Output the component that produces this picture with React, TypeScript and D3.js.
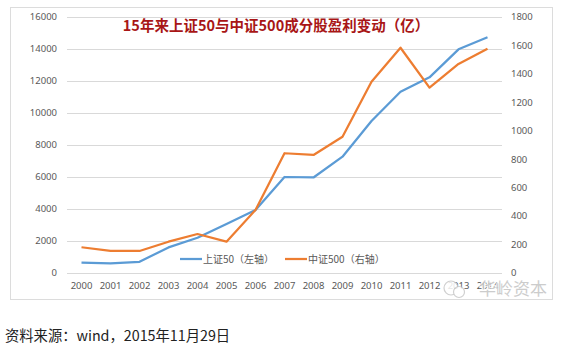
import React from "react";
import * as d3 from "d3";

const years = ["2000","2001","2002","2003","2004","2005","2006","2007","2008","2009","2010","2011","2012","2013","2014"];
const sz50 = [650, 600, 700, 1600, 2200, 3060, 3940, 6000, 5970, 7270, 9500, 11330, 12230, 13980, 14730];
const zz500 = [181, 155, 155, 220, 274, 220, 443, 842, 830, 958, 1345, 1584, 1303, 1470, 1577];
const leftTicks = [0, 2000, 4000, 6000, 8000, 10000, 12000, 14000, 16000];
const rightTicks = [0, 200, 400, 600, 800, 1000, 1200, 1400, 1600, 1800];
const title = "15年来上证50与中证500成分股盈利变动（亿）";
const legendNames = ["上证50（左轴）", "中证500（右轴）"];
const source = "资料来源：wind，2015年11月29日";
const watermark = "华岭资本";

const BLUE = "#5b9bd5";
const ORANGE = "#ed7d31";
const CJK = "'Noto Sans CJK SC', 'Noto Sans', sans-serif";
const NUM = "'Noto Sans', 'Open Sans', sans-serif";

export default function App() {
  const x = d3.scaleBand<string>().domain(years).range([67, 502]);
  const cx = (y: string) => (x(y) as number) + x.bandwidth() / 2;
  const yL = d3.scaleLinear().domain([0, 16000]).range([273, 17]);
  const yR = d3.scaleLinear().domain([0, 1800]).range([273, 17]);
  const lineL = d3.line<number>().x((_, i) => cx(years[i])).y((d) => yL(d));
  const lineR = d3.line<number>().x((_, i) => cx(years[i])).y((d) => yR(d));

  return (
    <svg width={583} height={354} style={{ position: "absolute", left: 0, top: 0, background: "#fff" }}>
      <rect x={0} y={0} width={583} height={354} fill="#fff" />
      <rect x={10.5} y={7.5} width={542} height={292} fill="#fff" stroke="#dcdcdc" />
      {leftTicks.map((t) => (
        <line key={t} x1={67} x2={502} y1={Math.round(yL(t)) + 0.5} y2={Math.round(yL(t)) + 0.5} stroke="#d9d9d9" strokeWidth={1} />
      ))}
      {leftTicks.map((t) => (
        <text key={t} x={57} y={yL(t)} dy="0.35em" textAnchor="end" fontFamily={NUM} fontSize={9.5} fill="#595959">{t}</text>
      ))}
      {rightTicks.map((t) => (
        <text key={t} x={511} y={yR(t)} dy="0.35em" textAnchor="start" fontFamily={NUM} fontSize={9.5} fill="#595959">{t}</text>
      ))}
      {years.map((yr) => (
        <text key={yr} x={cx(yr)} y={286} dy="0.35em" textAnchor="middle" fontFamily={NUM} fontSize={9.5} fill="#595959">{yr}</text>
      ))}
      <path d={lineL(sz50) || ""} fill="none" stroke={BLUE} strokeWidth={2.25} strokeLinejoin="round" />
      <path d={lineR(zz500) || ""} fill="none" stroke={ORANGE} strokeWidth={2.25} strokeLinejoin="round" />
      <text x={276} y={26} dy="0.35em" textAnchor="middle" fontFamily={CJK} fontSize={14.5} fontWeight="bold" fill="#a81616">{title}</text>
      <line x1={180} x2={202} y1={259} y2={259} stroke={BLUE} strokeWidth={2.25} />
      <text x={203} y={259} dy="0.35em" fontFamily={CJK} fontSize={10} fill="#595959">{legendNames[0]}</text>
      <line x1={285} x2={307} y1={259} y2={259} stroke={ORANGE} strokeWidth={2.25} />
      <text x={308} y={259} dy="0.35em" fontFamily={CJK} fontSize={10} fill="#595959">{legendNames[1]}</text>
      <g opacity={0.85}>
        <circle cx={451} cy={288} r={7} fill="#fff" stroke="#c8c8c8" strokeWidth={1.2} />
        <circle cx={459} cy={292} r={5.5} fill="#fff" stroke="#c8c8c8" strokeWidth={1.2} />
        <text x={513} y={289} dy="0.35em" textAnchor="middle" fontFamily={CJK} fontSize={17} fill="#c4c4c4" stroke="#fff" strokeWidth={2} paintOrder="stroke">{watermark}</text>
      </g>
      <text x={5} y={336} dy="0.35em" fontFamily={CJK} fontSize={14.3} fill="#222">{source}</text>
    </svg>
  );
}
